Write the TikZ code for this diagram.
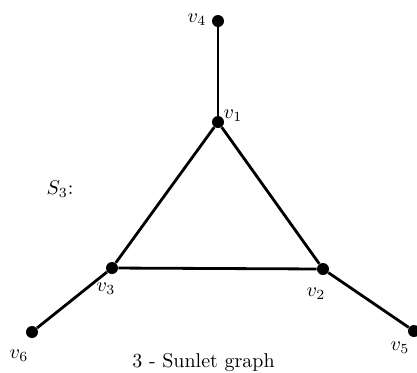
\documentclass[tikz,border=0pt]{standalone}
\begin{document}
\begin{tikzpicture}[x=0.5pt,y=-0.5pt,
  vert/.style={circle,fill=black,inner sep=0pt,minimum size=6pt},
  lab/.style={inner sep=0pt},
  edge/.style={line width=1.4pt}]
\useasboundingbox (0,0) rectangle (417,372);
\node[vert] (v1) at (218,122) {};
\node[vert] (v2) at (323,269) {};
\node[vert] (v3) at (112,268) {};
\node[vert] (v4) at (218,21) {};
\node[vert] (v5) at (414,331) {};
\node[vert] (v6) at (32,332) {};
\draw[edge] (v1) -- (v2) -- (v3) -- (v1);
\draw[edge] (v1) -- (v4);
\draw[edge] (v2) -- (v5);
\draw[edge] (v3) -- (v6);
\node[lab] (l1) at (233,116) {$v_1$};
\node[lab] (l2) at (316,294) {$v_2$};
\node[lab] (l3) at (106,289) {$v_3$};
\node[lab] (l4) at (197,20) {$v_4$};
\node[lab] (l5) at (400,348) {$v_5$};
\node[lab] (l6) at (19,356) {$v_6$};
\node[lab] (s3) at (60,189) {$S_3$:};
\node[lab,anchor=base] (title) at (203.5,367) {3 - Sunlet graph};
\end{tikzpicture}
\end{document}
